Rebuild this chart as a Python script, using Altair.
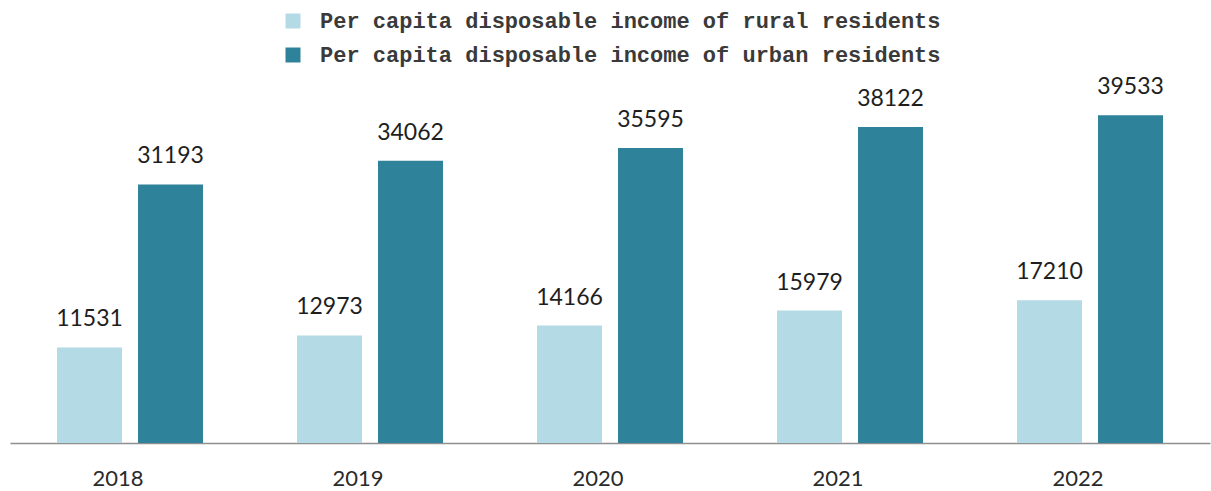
import altair as alt
import pandas as pd

years = ["2018", "2019", "2020", "2021", "2022"]
rural = [11531, 12973, 14166, 15979, 17210]
urban = [31193, 34062, 35595, 38122, 39533]
series_names = [
    "Per capita disposable income of rural residents",
    "Per capita disposable income of urban residents",
]
colors = ["#b3dae5", "#2e8299"]

rows = []
for i, y in enumerate(years):
    rows.append({"year": y, "series": series_names[0], "value": rural[i]})
    rows.append({"year": y, "series": series_names[1], "value": urban[i]})
df = pd.DataFrame(rows)

x_enc = alt.X(
    "year:N",
    sort=years,
    scale=alt.Scale(paddingInner=0, paddingOuter=0),
    axis=alt.Axis(
        title=None,
        ticks=False,
        domainColor="#8f8f8f",
        domainWidth=1.5,
        labelFont="Lato",
        labelFontSize=22,
        labelColor="#2a2a2a",
        labelAngle=0,
        labelBaseline="alphabetic",
        labelPadding=42,
        labelOffset=-12,
    ),
)
xoff = alt.XOffset(
    "series:N",
    sort=series_names,
    scale=alt.Scale(paddingInner=0.198, paddingOuter=0.58),
)
y_enc = alt.Y(
    "value:Q",
    scale=alt.Scale(domain=[0, 45000], nice=False),
    axis=None,
)

base = alt.Chart(df)

bars = base.mark_bar().encode(
    x=x_enc,
    xOffset=xoff,
    y=y_enc,
    color=alt.Color(
        "series:N",
        sort=series_names,
        scale=alt.Scale(domain=series_names, range=colors),
        legend=alt.Legend(
            title=None,
            orient="none",
            legendX=272,
            legendY=-60,
            direction="vertical",
            symbolType="square",
            symbolSize=225,
            symbolStrokeWidth=0,
            symbolOpacity=1,
            labelFont="Liberation Mono",
            labelFontSize=22,
            labelFontWeight="bold",
            labelColor="#3a3a3a",
            labelOffset=16,
            rowPadding=12,
            padding=0,
            labelLimit=900,
        ),
    ),
)

labels = base.mark_text(
    baseline="alphabetic",
    align="center",
    dy=-21,
    font="Lato",
    fontSize=23,
    color="#1e1e1e",
).encode(
    x=alt.X("year:N", sort=years),
    xOffset=alt.XOffset("series:N", sort=series_names),
    y=alt.Y("value:Q"),
    text=alt.Text("value:Q", format="d"),
)

chart = (
    alt.layer(bars, labels)
    .properties(
        width=1200,
        height=373,
        autosize=alt.AutoSizeParams(type="none"),
        padding={"left": 10, "top": 70, "right": 1, "bottom": 48},
        background="white",
    )
    .configure_view(stroke=None)
)

chart.save("out.html", embed_options={"renderer": "svg", "actions": False})
